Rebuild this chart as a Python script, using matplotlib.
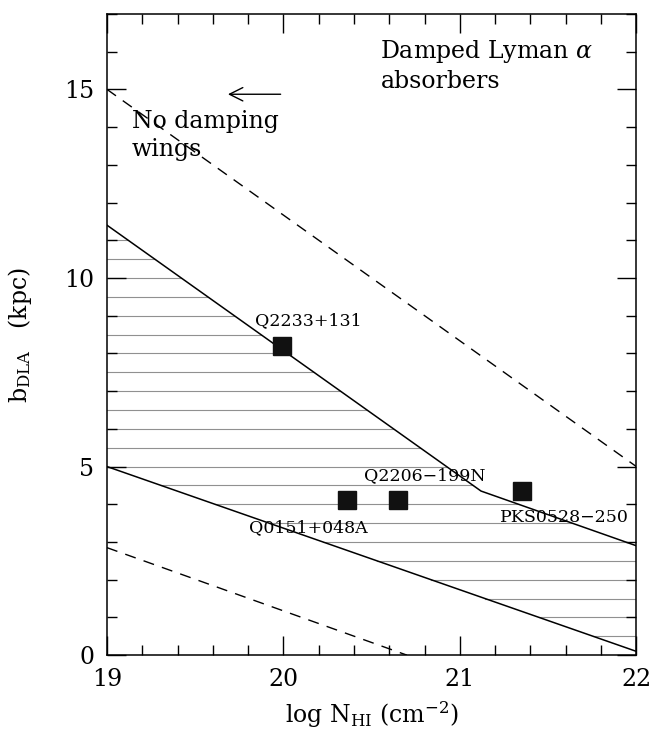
import numpy as np
import matplotlib
matplotlib.use("Agg")
import matplotlib.pyplot as plt
from matplotlib.ticker import MultipleLocator

plt.rcParams['font.family'] = ['DejaVu Serif']
plt.rcParams['mathtext.fontset'] = 'dejavuserif'

# данные
# верхняя граница заштрихованной области (с изломом)
upper_x = [19.0, 21.12, 22.0]
upper_y = [11.4, 4.35, 2.9]
# нижняя граница
lower_x = [19.0, 22.0]
lower_y = [5.0, 0.1]
# штриховые линии
dash_hi_x = [19.0, 22.0]
dash_hi_y = [15.0, 5.0]
dash_lo_x = [19.0, 20.7]
dash_lo_y = [2.85, 0.0]

# объекты
names = ["Q2233+131", "Q0151+048A", "Q2206\u2212199N", "PKS0528\u2212250"]
obj_x = [19.99, 20.36, 20.65, 21.35]
obj_y = [8.2, 4.1, 4.1, 4.35]
label_x = [20.14, 20.14, 20.80, 21.59]
label_y = [8.86, 3.37, 4.77, 3.66]

hatch_levels = np.arange(0.5, 11.5, 0.5)

fig = plt.figure(figsize=(6.56, 7.32), dpi=100)
ax = fig.add_axes([0.163, 0.105, 0.807, 0.876])

# штриховка горизонтальными линиями между кривыми
for lev in hatch_levels:
    xu = np.interp(lev, upper_y[::-1], upper_x[::-1])
    xl = np.interp(lev, lower_y[::-1], lower_x[::-1])
    x0 = max(19.0, xl)
    x1 = min(22.0, xu)
    if x1 > x0:
        ax.plot([x0, x1], [lev, lev], color="#909090", lw=0.8, zorder=1)

ax.plot(upper_x, upper_y, color="black", lw=1.1, zorder=2)
ax.plot(lower_x, lower_y, color="black", lw=1.1, zorder=2)
ax.plot(dash_hi_x, dash_hi_y, color="black", lw=1.0, ls=(0, (8, 6)), zorder=2)
ax.plot(dash_lo_x, dash_lo_y, color="black", lw=1.0, ls=(0, (8, 6)), zorder=2)

ax.plot(obj_x, obj_y, ls="none", marker="s", ms=13, color="#111111", zorder=3)
for n, lx, ly in zip(names, label_x, label_y):
    ax.text(lx, ly, n, fontsize=12.5, ha="center", va="center", zorder=4)

ax.annotate("", xy=(19.67, 14.87), xytext=(20.0, 14.87),
            arrowprops=dict(arrowstyle="->", lw=1.0, color="black",
                            mutation_scale=24))
ax.text(19.14, 14.45, "No damping\nwings", fontsize=17, ha="left", va="top",
        linespacing=1.25)
ax.text(20.55, 16.35, "Damped Lyman $\\alpha$\nabsorbers", fontsize=17,
        ha="left", va="top", linespacing=1.25)

ax.set_xlim(19, 22)
ax.set_ylim(0, 17)
ax.xaxis.set_major_locator(MultipleLocator(1))
ax.xaxis.set_minor_locator(MultipleLocator(0.2))
ax.yaxis.set_major_locator(MultipleLocator(5))
ax.yaxis.set_minor_locator(MultipleLocator(1))
ax.tick_params(which="both", direction="in", top=True, right=True,
               labelsize=17, width=1.0)
ax.tick_params(which="major", length=14, pad=9)
ax.tick_params(which="minor", length=7)
for s in ax.spines.values():
    s.set_linewidth(1.1)

ax.set_xlabel("log N$_{\\rm HI}$ (cm$^{-2}$)", fontsize=17, labelpad=6)
ax.set_ylabel("b$_{\\rm DLA}$   (kpc)", fontsize=17, labelpad=22)

fig.savefig("out.png", dpi=100)
